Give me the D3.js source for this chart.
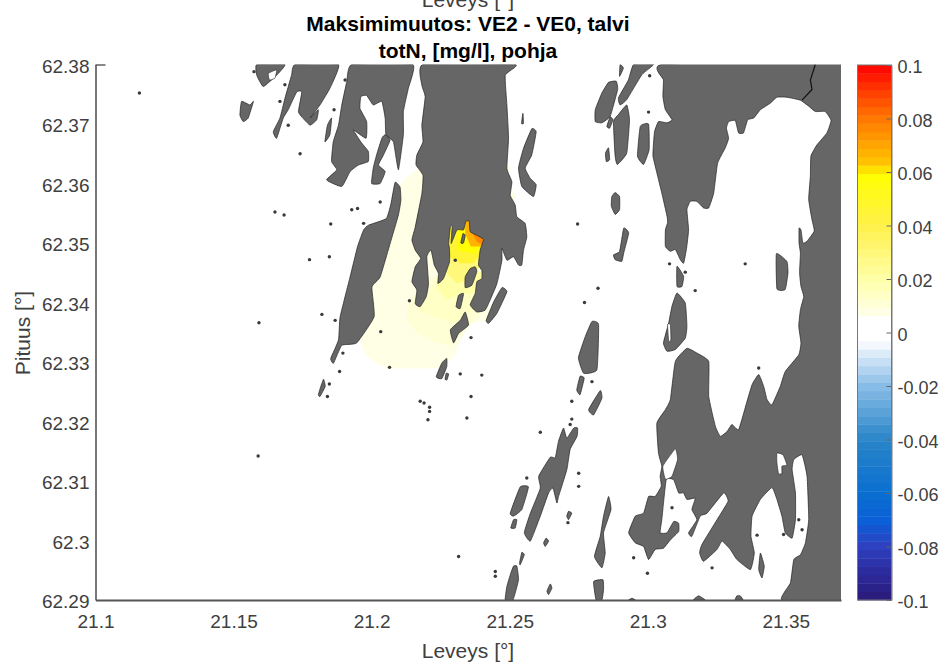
<!DOCTYPE html>
<html><head><meta charset="utf-8">
<script src="https://cdn.jsdelivr.net/npm/d3@7"></script>
<style>html,body{margin:0;background:#fff}svg{display:block}text{font-family:"Liberation Sans",Arial,sans-serif}</style>
</head><body><div id="c"></div>
<script>
// ---- labels and ticks
const titleLines = ["Maksimimuutos: VE2 - VE0, talvi", "totN, [mg/l], pohja"];
const xLabel = "Leveys [°]", yLabel = "Pituus [°]";
const xTicks = [21.1, 21.15, 21.2, 21.25, 21.3, 21.35];
const yTicks = [62.29, 62.3, 62.31, 62.32, 62.33, 62.34, 62.35, 62.36, 62.37, 62.38];
const cTicks = [-0.1, -0.08, -0.06, -0.04, -0.02, 0, 0.02, 0.04, 0.06, 0.08, 0.1];
// ---- colour map
const cStops = [-0.1, -0.09, -0.08, -0.07, -0.06, -0.04, -0.02, -0.006, -0.0031, 0.0062, 0.0078, 0.02, 0.04, 0.059, 0.0625, 0.08, 0.1];
const cColors = ["#2a1b78", "#2c2a9c", "#2e40c0", "#0a60d8", "#0a6fd0", "#2a85c8", "#88bde6", "#e8f2fb", "#ffffff", "#ffffff", "#ffffe6", "#ffffa8", "#fff04a", "#ffff00", "#ffc800", "#ff7800", "#ff0000"];
const nBands = 64;
// ---- change field (nested areas, lon/lat) and its value [mg/l]
const plumeValues = [0.008, 0.008, 0.0095, 0.014, 0.02, 0.03, 0.045, 0.058, 0.066, 0.076];
const plumeAreas = [
 [[21.2085,62.3589],[21.2128,62.3611],[21.2164,62.3624],[21.2248,62.3622],[21.2345,62.3544],[21.2393,62.3488],[21.2430,62.3432],[21.2424,62.3393],[21.2424,62.3370],[21.2357,62.3365],[21.2321,62.3337],[21.2303,62.3314],[21.2285,62.3303],[21.2236,62.3289],[21.2055,62.3289],[21.2019,62.3298],[21.1983,62.3309],[21.1958,62.3334],[21.1977,62.3365],[21.1977,62.3410],[21.2013,62.3460],[21.2067,62.3533]],
 [[21.2478,62.3628],[21.2504,62.3628],[21.2490,62.3603],[21.2514,62.3586],[21.2524,62.3575],[21.2478,62.3575]],
 [[21.2164,62.3421],[21.2128,62.3393],[21.2128,62.3370],[21.2164,62.3348],[21.2224,62.3334],[21.2285,62.3326],[21.2315,62.3342],[21.2381,62.3373],[21.2417,62.3393],[21.2417,62.3432],[21.2224,62.3443]],
 [[21.2200,62.3410],[21.2170,62.3387],[21.2224,62.3376],[21.2297,62.3365],[21.2369,62.3387],[21.2417,62.3393],[21.2405,62.3443],[21.2248,62.3449]],
 [[21.2236,62.3426],[21.2272,62.3404],[21.2321,62.3415],[21.2369,62.3415],[21.2405,62.3449],[21.2272,62.3471]],
 [[21.2272,62.3449],[21.2309,62.3432],[21.2345,62.3438],[21.2405,62.3466],[21.2405,62.3494],[21.2285,62.3477]],
 [[21.2279,62.3477],[21.2321,62.3466],[21.2369,62.3466],[21.2405,62.3488],[21.2405,62.3527],[21.2272,62.3527]],
 [[21.2309,62.3488],[21.2375,62.3482],[21.2405,62.3499],[21.2417,62.3544],[21.2309,62.3544]],
 [[21.2339,62.3516],[21.2359,62.3494],[21.2399,62.3494],[21.2417,62.3499],[21.2417,62.3544],[21.2339,62.3544]],
 [[21.2369,62.3513],[21.2381,62.3502],[21.2405,62.3496],[21.2417,62.3544],[21.2369,62.3544]]
];
// ---- coastline polygons (lon/lat)
const eastMainland = [[21.3051,62.38],[21.3057,62.3774],[21.3055,62.3746],[21.3064,62.3724],[21.3088,62.3707],[21.3070,62.3702],[21.3039,62.3704],[21.3025,62.3688],[21.3021,62.3668],[21.3019,62.3646],[21.3033,62.3618],[21.3051,62.3584],[21.3070,62.3545],[21.3072,62.3534],[21.3064,62.3522],[21.3064,62.3494],[21.3082,62.3486],[21.3100,62.3489],[21.3118,62.3472],[21.3130,62.3466],[21.3140,62.3489],[21.3148,62.3522],[21.3142,62.3556],[21.3154,62.3570],[21.3178,62.3570],[21.3202,62.3559],[21.3221,62.3559],[21.3239,62.3584],[21.3253,62.3634],[21.3281,62.3660],[21.3293,62.3676],[21.3285,62.3693],[21.3293,62.3704],[21.3317,62.3706],[21.3329,62.3685],[21.3347,62.3685],[21.3362,62.3707],[21.3384,62.3710],[21.3408,62.3724],[21.3444,62.3735],[21.3468,62.3745],[21.3504,62.3745],[21.3553,62.3740],[21.3583,62.3730],[21.3607,62.3721],[21.3643,62.3721],[21.3664,62.3706],[21.3649,62.3685],[21.3613,62.3665],[21.3591,62.3646],[21.3589,62.3612],[21.3583,62.3573],[21.3595,62.3539],[21.3603,62.3520],[21.3577,62.3503],[21.3562,62.3500],[21.3555,62.3522],[21.3548,62.3525],[21.3548,62.3500],[21.3553,62.3483],[21.3550,62.3450],[21.3555,62.3427],[21.3565,62.3410],[21.3553,62.3388],[21.3547,62.3360],[21.3555,62.3332],[21.3547,62.3312],[21.3498,62.3284],[21.3480,62.3259],[21.3450,62.3228],[21.3432,62.3237],[21.3420,62.3259],[21.3402,62.3279],[21.3378,62.3262],[21.3353,62.3223],[21.3329,62.3186],[21.3305,62.3195],[21.3287,62.3183],[21.3263,62.3175],[21.3245,62.3192],[21.3221,62.3242],[21.3221,62.3301],[21.3178,62.3315],[21.3142,62.3323],[21.3100,62.3301],[21.3082,62.3237],[21.3064,62.3220],[21.3033,62.3197],[21.3039,62.3147],[21.3051,62.3125],[21.3045,62.3108],[21.3049,62.3091],[21.3027,62.3074],[21.3003,62.3074],[21.2985,62.3046],[21.2955,62.3041],[21.2931,62.3013],[21.2955,62.2996],[21.2985,62.2990],[21.3003,62.2968],[21.3027,62.2985],[21.3057,62.2987],[21.3082,62.3001],[21.3112,62.3015],[21.3112,62.3029],[21.3094,62.3032],[21.3070,62.3013],[21.3045,62.3013],[21.3051,62.3035],[21.3067,62.3102],[21.3094,62.3102],[21.3112,62.3080],[21.3130,62.3080],[21.3142,62.3069],[21.3172,62.3071],[21.3160,62.3052],[21.3178,62.3035],[21.3148,62.3013],[21.3160,62.3007],[21.3190,62.3041],[21.3215,62.3046],[21.3275,62.3080],[21.3291,62.3066],[21.3251,62.3035],[21.3196,62.2993],[21.3188,62.2979],[21.3202,62.2965],[21.3251,62.2985],[21.3269,62.2999],[21.3299,62.2985],[21.3323,62.2968],[21.3372,62.2951],[21.3386,62.2979],[21.3374,62.3007],[21.3378,62.3041],[21.3408,62.3069],[21.3450,62.3089],[21.3468,62.3069],[21.3486,62.3041],[21.3498,62.3013],[21.3523,62.3004],[21.3535,62.3035],[21.3535,62.3080],[21.3523,62.3119],[21.3529,62.3136],[21.3559,62.3144],[21.3577,62.3108],[21.3583,62.3035],[21.3571,62.2996],[21.3553,62.2976],[21.3529,62.2968],[21.3517,62.2929],[21.3486,62.29],[21.37,62.289],[21.372,62.289],[21.372,62.381],[21.37,62.381]];
const centralLand = [[21.2186,62.38],[21.2182,62.3765],[21.2194,62.3746],[21.2182,62.3698],[21.2186,62.3670],[21.2164,62.3648],[21.2161,62.3631],[21.2186,62.3614],[21.2182,62.3583],[21.2158,62.3527],[21.2146,62.3505],[21.2158,62.3488],[21.2178,62.3474],[21.2158,62.3460],[21.2146,62.3435],[21.2164,62.3421],[21.2158,62.3398],[21.2176,62.3393],[21.2198,62.3410],[21.2206,62.3432],[21.2200,62.3477],[21.2215,62.3488],[21.2227,62.3463],[21.2242,62.3449],[21.2240,62.3432],[21.2260,62.3440],[21.2282,62.3468],[21.2282,62.3491],[21.2279,62.3499],[21.2285,62.3527],[21.2292,62.3528],[21.2288,62.3499],[21.2309,62.3522],[21.2333,62.3522],[21.2341,62.3536],[21.2353,62.3537],[21.2357,62.3519],[21.2381,62.3513],[21.2405,62.3506],[21.2393,62.3488],[21.2387,62.3463],[21.2399,62.3454],[21.2399,62.3440],[21.2381,62.3435],[21.2375,62.3415],[21.2357,62.3396],[21.2381,62.3384],[21.2411,62.3387],[21.2429,62.3404],[21.2454,62.3432],[21.2472,62.3471],[21.2472,62.3491],[21.2490,62.3471],[21.2514,62.3477],[21.2532,62.3463],[21.2544,62.3463],[21.2550,62.3488],[21.2562,62.3510],[21.2556,62.3533],[21.2526,62.3544],[21.2520,62.3564],[21.2502,62.3580],[21.2508,62.3603],[21.2490,62.3625],[21.2496,62.3676],[21.2490,62.3732],[21.2484,62.3782],[21.2520,62.38]];
const westIsland = [[21.2085,62.3602],[21.2103,62.3594],[21.2106,62.3572],[21.2097,62.3547],[21.2067,62.3499],[21.2031,62.3443],[21.2001,62.3426],[21.2009,62.3376],[21.1946,62.3332],[21.1892,62.3328],[21.1862,62.3298],[21.1852,62.3306],[21.1880,62.3337],[21.1886,62.3376],[21.1922,62.3443],[21.1949,62.3494],[21.1971,62.3522],[21.1989,62.3530],[21.2053,62.3541],[21.2070,62.3566]];
const northMiddle = [[21.1928,62.38],[21.1910,62.3771],[21.1892,62.3732],[21.1880,62.3698],[21.1861,62.3670],[21.1855,62.3637],[21.1874,62.3623],[21.1837,62.3606],[21.1892,62.3595],[21.1922,62.3620],[21.1952,62.3631],[21.1988,62.3637],[21.1988,62.3654],[21.1964,62.3668],[21.1934,62.3690],[21.1980,62.3676],[21.1982,62.3704],[21.1958,62.3726],[21.1961,62.3746],[21.1982,62.3748],[21.2006,62.3732],[21.2037,62.3738],[21.2049,62.3710],[21.2052,62.3682],[21.2079,62.3670],[21.2097,62.3623],[21.2115,62.3682],[21.2115,62.3721],[21.2133,62.3760],[21.2149,62.38]];
const northWest = [[21.1723,62.38],[21.1880,62.38],[21.1849,62.3760],[21.1813,62.3732],[21.1777,62.3710],[21.1807,62.3724],[21.1801,62.3707],[21.1777,62.3698],[21.1747,62.3712],[21.1735,62.3721],[21.1747,62.3754],[21.1729,62.3754],[21.1698,62.3724],[21.1680,62.3710],[21.1656,62.3676],[21.1644,62.3687],[21.1668,62.3710],[21.1686,62.3743],[21.1710,62.3782]];
const islands = [
 [[21.1584,62.38],[21.1686,62.38],[21.1656,62.3782],[21.1608,62.3763],[21.1584,62.3782]],
 [[21.1529,62.3738],[21.1559,62.3732],[21.1572,62.3738],[21.1553,62.3710],[21.1535,62.3704],[21.1523,62.3715]],
 [[21.2049,62.3682],[21.2067,62.3673],[21.2043,62.3648],[21.2025,62.3631],[21.2049,62.3620],[21.2031,62.3600],[21.2000,62.3600],[21.2006,62.3626],[21.2018,62.3648],[21.2037,62.3676]],
 [[21.1855,62.3710],[21.1849,62.3682],[21.1831,62.3670],[21.1840,62.3698]],
 [[21.2548,62.3718],[21.2550,62.3701],[21.2543,62.3701]],
 [[21.2580,62.3692],[21.2596,62.3687],[21.2580,62.3648],[21.2556,62.3626],[21.2574,62.3609],[21.2596,62.3598],[21.2586,62.3578],[21.2544,62.3595],[21.2532,62.3626],[21.2550,62.3659]],
 [[21.2331,62.3516],[21.2339,62.3513],[21.2333,62.3500],[21.2323,62.3500]],
 [[21.2375,62.3460],[21.2381,62.3452],[21.2363,62.3429],[21.2339,62.3425],[21.2339,62.3443],[21.2357,62.3457]],
 [[21.2333,62.3415],[21.2321,62.3390],[21.2306,62.3393],[21.2315,62.3412]],
 [[21.2339,62.3384],[21.2351,62.3362],[21.2315,62.3348],[21.2297,62.3332],[21.2285,62.3354],[21.2321,62.3370]],
 [[21.2472,62.3425],[21.2490,62.3418],[21.2454,62.3382],[21.2424,62.3365],[21.2415,62.3370],[21.2442,62.3401]],
 [[21.2272,62.3306],[21.2272,62.3292],[21.2254,62.3272],[21.2234,62.3275],[21.2254,62.3298]],
 [[21.2270,62.3281],[21.2279,62.3280],[21.2273,62.3270],[21.2266,62.3271]],
 [[21.1826,62.3271],[21.1832,62.3259],[21.1813,62.3242],[21.1807,62.3245],[21.1816,62.3259]],
 [[21.2695,62.3189],[21.2707,62.3172],[21.2732,62.3189],[21.2746,62.3189],[21.2744,62.3175],[21.2719,62.3153],[21.2707,62.3119],[21.2677,62.3074],[21.2671,62.3063],[21.2657,62.3088],[21.2641,62.3080],[21.2611,62.3041],[21.2575,62.2999],[21.2553,62.3013],[21.2575,62.3046],[21.2611,62.3088],[21.2605,62.3108],[21.2647,62.3140],[21.2665,62.3139],[21.2677,62.3167]],
 [[21.2538,62.3090],[21.2568,62.3090],[21.2544,62.3052],[21.2514,62.3041],[21.2502,62.3046]],
 [[21.2514,62.3035],[21.2526,62.3035],[21.2520,62.3021],[21.2504,62.3021]],
 [[21.2632,62.3004],[21.2641,62.2999],[21.2629,62.2990],[21.2623,62.2996]],
 [[21.2544,62.2980],[21.2553,62.2976],[21.2538,62.2959],[21.2536,62.2963]],
 [[21.2514,62.2957],[21.2526,62.2957],[21.2532,62.2934],[21.2512,62.29],[21.2484,62.29],[21.2490,62.2923],[21.2504,62.2945]],
 [[21.2647,62.2927],[21.2653,62.2920],[21.2641,62.2909],[21.2635,62.2915]],
 [[21.2713,62.3049],[21.2725,62.3046],[21.2713,62.3035],[21.2707,62.3041]],
 [[21.2798,62.3368],[21.2822,62.3363],[21.2816,62.3287],[21.2768,62.3281],[21.2749,62.3307],[21.2774,62.3343]],
 [[21.2755,62.3276],[21.2770,62.3273],[21.2755,62.3245],[21.2743,62.3253]],
 [[21.2828,62.3252],[21.2834,62.3239],[21.2804,62.3211],[21.2786,62.3220]],
 [[21.2858,62.3074],[21.2867,62.3052],[21.2840,62.3013],[21.2846,62.2979],[21.2834,62.2954],[21.2807,62.2973],[21.2828,62.3007],[21.2840,62.3041]],
 [[21.2804,62.2931],[21.2838,62.2934],[21.2840,62.2917],[21.2834,62.29],[21.2813,62.29]],
 [[21.3408,62.2979],[21.3422,62.2957],[21.3414,62.2937],[21.3402,62.2951]],
 [[21.2931,62.29],[21.2943,62.2903],[21.2955,62.29]],
 [[21.3166,62.29],[21.3184,62.2907],[21.3208,62.29]],
 [[21.3317,62.29],[21.3323,62.2907],[21.3335,62.2907],[21.3345,62.29]],
 [[21.3106,62.3416],[21.3136,62.3399],[21.3142,62.3360],[21.3136,62.3340],[21.3100,62.3321],[21.3070,62.3318],[21.3057,62.3332],[21.3076,62.3366],[21.3088,62.3394]],
 [[21.3106,62.3461],[21.3130,62.3444],[21.3124,62.3427],[21.3106,62.3427]],
 [[21.2913,62.3525],[21.2931,62.3517],[21.2913,62.3483],[21.2906,62.3469],[21.2882,62.3472],[21.2876,62.3480],[21.2898,62.3486]],
 [[21.3466,62.3482],[21.3504,62.3469],[21.3508,62.3450],[21.3498,62.3422],[21.3468,62.3423]],
 [[21.2882,62.3585],[21.2898,62.3578],[21.2898,62.3556],[21.2882,62.3548],[21.2868,62.3562],[21.2870,62.3578]],
 [[21.2858,62.3660],[21.2862,62.3640],[21.2850,62.3637],[21.2847,62.3651]],
 [[21.2858,62.3770],[21.2886,62.3772],[21.2891,62.3758],[21.2864,62.3713],[21.2834,62.3702],[21.2810,62.3704],[21.2810,62.3724],[21.2834,62.3752]],
 [[21.2949,62.38],[21.3021,62.38],[21.2979,62.3783],[21.2924,62.3741],[21.2900,62.3732],[21.2894,62.3744],[21.2930,62.3774]],
 [[21.2924,62.3732],[21.2934,62.3707],[21.2924,62.3651],[21.2890,62.3632],[21.2882,62.3646],[21.2876,62.3704],[21.2894,62.3716]],
 [[21.2973,62.3696],[21.3003,62.3700],[21.3005,62.3657],[21.2985,62.3632],[21.2963,62.3646]],
 [[21.2900,62.38],[21.2912,62.3794],[21.2898,62.3780]],
 [[21.2864,62.3712],[21.2874,62.3707],[21.2862,62.3693],[21.2852,62.3696]]
];
const lakes = [
 [[21.3468,62.3147],[21.3490,62.3144],[21.3504,62.3127],[21.3486,62.3125],[21.3486,62.3113],[21.3474,62.3112],[21.3468,62.3130]],
 [[21.3100,62.3154],[21.3108,62.3136],[21.3088,62.3108],[21.3064,62.3103],[21.3055,62.3125]],
 [[21.1626,62.3785],[21.1656,62.3791],[21.1650,62.3777],[21.1630,62.3774]],
 [[21.3072,62.3363],[21.3082,62.3363],[21.3084,62.3337],[21.3076,62.3335]]
];
const river = [[21.3607,62.38],[21.3589,62.3774],[21.3595,62.3758],[21.3559,62.3740]];
const skerries = [[21.1904,62.3774],[21.1864,62.3724],[21.1741,62.3650],[21.1668,62.3738],[21.1698,62.3698],[21.1686,62.3766],[21.1574,62.3788],[21.1928,62.3556],[21.1949,62.3558],[21.1971,62.3533],[21.1852,62.3532],[21.1775,62.3472],[21.1847,62.3477],[21.1820,62.3380],[21.1868,62.3370],[21.2137,62.3403],[21.2033,62.3351],[21.2065,62.3291],[21.1884,62.3284],[21.2321,62.3280],[21.2399,62.3278],[21.2360,62.3341],[21.2031,62.3569],[21.1896,62.3315],[21.1159,62.3752],[21.1650,62.3552],[21.1683,62.3547],[21.1592,62.3366],[21.1589,62.3142],[21.1847,62.3263],[21.1840,62.3242],[21.2176,62.3234],[21.2190,62.3231],[21.2210,62.3224],[21.2210,62.3217],[21.2204,62.3203],[21.2360,62.3242],[21.2345,62.3206],[21.2315,62.2973],[21.2448,62.2948],[21.2448,62.2940],[21.2562,62.3105],[21.2611,62.3182],[21.2725,62.3234],[21.2725,62.3204],[21.2719,62.3195],[21.2750,62.3113],[21.2750,62.3091],[21.2711,62.3030],[21.2798,62.3267],[21.2949,62.2971],[21.2999,62.2945],[21.3088,62.3055],[21.3233,62.2954],[21.3396,62.3009],[21.3547,62.3035],[21.3559,62.3018],[21.3492,62.3010],[21.3402,62.3290],[21.2746,62.3532],[21.2820,62.3424],[21.2771,62.3400],[21.3003,62.3720],[21.3007,62.3781],[21.3353,62.3465],[21.3172,62.3420],[21.3079,62.3465],[21.3136,62.3451],[21.2303,62.3471]];

// ---- drawing
const W = 943, H = 665;
const svg = d3.select("#c").append("svg").attr("width", W).attr("height", H);
const x = d3.scaleLinear().domain([21.1, 21.37]).range([95.5, 841]);
const y = d3.scaleLinear().domain([62.29, 62.38]).range([600, 64.5]);
const cy = d3.scaleLinear().domain([-0.1, 0.1]).range([600, 65]);
const rawColor = d3.scaleLinear().domain(cStops).range(cColors).interpolate(d3.interpolateRgb);
const step = 0.2 / nBands;
const bands = d3.range(nBands).map(i => -0.1 + (i + 0.5) * step);
const color = v => rawColor(bands[Math.max(0, Math.min(nBands - 1, Math.floor((v + 0.1) / step)))]);
const line = d3.line().x(d => x(d[0])).y(d => y(d[1]));
const organic = d3.line().x(d => x(d[0])).y(d => y(d[1])).curve(d3.curveCardinalClosed.tension(0.6));
const closed = p => line(p) + "Z";

svg.append("clipPath").attr("id", "plot").append("rect")
  .attr("x", x(21.1)).attr("y", y(62.38)).attr("width", x(21.37) - x(21.1)).attr("height", y(62.29) - y(62.38));
const map = svg.append("g").attr("clip-path", "url(#plot)");

map.selectAll(".plume").data(plumeAreas).join("path").attr("class", "plume")
  .attr("d", closed).attr("fill", (d, i) => color(plumeValues[i]));

const landAll = [eastMainland, centralLand, westIsland, northMiddle, northWest, ...islands];
map.selectAll(".land").data(landAll).join("path").attr("class", "land")
  .attr("d", organic).attr("fill", "#666").attr("stroke", "#222").attr("stroke-width", 0.7).attr("stroke-linejoin", "round");
map.selectAll(".lake").data(lakes).join("path").attr("class", "lake")
  .attr("d", organic).attr("fill", "#fff").attr("stroke", "#222").attr("stroke-width", 0.6);
map.append("path").attr("d", line(river)).attr("fill", "none").attr("stroke", "#111").attr("stroke-width", 1.2);
map.selectAll(".sk").data(skerries).join("circle").attr("class", "sk")
  .attr("cx", d => x(d[0])).attr("cy", d => y(d[1])).attr("r", 1.7).attr("fill", "#3a3a3a");

const axisCol = "#404040", fs = 19, labelFs = 21;
const gx = svg.append("g").attr("transform", `translate(0,${y(62.29)})`)
  .call(d3.axisBottom(x).tickValues(xTicks).tickSize(0).tickPadding(15).tickFormat(d => String(d)));
const gy = svg.append("g").attr("transform", `translate(${x(21.1)},0)`)
  .call(d3.axisLeft(y).tickValues(yTicks).tickSize(0).tickPadding(6).tickFormat(d => String(d)));
[gx, gy].forEach(g => {
  g.selectAll("text").attr("font-size", fs).attr("fill", axisCol).attr("font-family", '"Liberation Sans",Arial,sans-serif');
  g.select(".domain").attr("stroke", "#555").attr("stroke-width", 1.6);
});
gy.selectAll("text").attr("dy", "0.42em");
gx.select(".domain").attr("stroke-width", 2);
gy.selectAll(".tick").filter(d => d === 62.38).select("line").attr("x2", 10).attr("stroke", "#555").attr("stroke-width", 1.4);

svg.append("text").attr("x", 468).attr("y", 658).attr("text-anchor", "middle").attr("font-size", labelFs).attr("fill", axisCol).text(xLabel);
svg.append("text").attr("transform", "translate(30,333) rotate(-90)").attr("text-anchor", "middle").attr("font-size", labelFs).attr("fill", axisCol).text(yLabel);
svg.append("text").attr("x", 468).attr("y", 7).attr("text-anchor", "middle").attr("font-size", labelFs).attr("fill", axisCol).text(xLabel);
svg.selectAll(".title").data(titleLines).join("text").attr("class", "title")
  .attr("x", 468).attr("y", (d, i) => 30.5 + i * 27.5).attr("text-anchor", "middle")
  .attr("font-size", 21).attr("font-weight", "bold").attr("fill", "#000").text(d => d);

// colour bar
const cb = svg.append("g");
const cx0 = 857.5, cx1 = 891.5;
cb.selectAll("rect").data(bands).join("rect")
  .attr("x", cx0).attr("width", cx1 - cx0)
  .attr("y", d => cy(d + step / 2)).attr("height", d => cy(d - step / 2) - cy(d + step / 2) + 0.4)
  .attr("fill", d => rawColor(d));
const gc = svg.append("g").attr("transform", `translate(${cx1},0)`)
  .call(d3.axisRight(cy).tickValues(cTicks).tickSizeInner(-5).tickSizeOuter(0).tickPadding(7).tickFormat(d => String(d)));
gc.selectAll("text").attr("font-size", 18).attr("fill", axisCol).attr("x", 6).attr("dy", "0.42em").attr("font-family", '"Liberation Sans",Arial,sans-serif');
gc.selectAll("line").attr("stroke", "#666");
gc.select(".domain").attr("stroke", "#777");
svg.append("rect").attr("x", cx0).attr("y", cy(0.1)).attr("width", cx1 - cx0).attr("height", cy(-0.1) - cy(0.1)).attr("fill", "none").attr("stroke", "#777");
</script></body></html>
